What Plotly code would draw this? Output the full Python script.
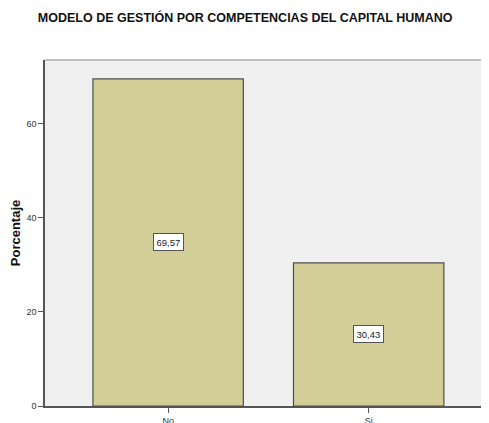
import plotly.graph_objects as go

categorias = ["No", "Si"]
porcentajes = [69.57, 30.43]
etiquetas = ["69,57", "30,43"]

fig = go.Figure()
fig.add_trace(go.Bar(
    x=categorias,
    y=porcentajes,
    width=0.75,
    marker=dict(color="#d3ce98", line=dict(color="#4d4d4d", width=1.2)),
    hoverinfo="skip",
))

for cat, val, txt in zip(categorias, porcentajes, etiquetas):
    fig.add_annotation(
        x=cat, y=val / 2, text=txt, showarrow=False,
        font=dict(family="Arial", size=9.5, color="#222"),
        bgcolor="white", bordercolor="#555", borderwidth=1, borderpad=2.5,
    )

# the page body adds an 8px offset, so the figure is sized to fit the window
fig.update_layout(
    width=481, height=415,
    margin=dict(l=37, r=0, t=52, b=17, autoexpand=False),
    paper_bgcolor="white",
    plot_bgcolor="#f0f0f0",
    showlegend=False,
    title=dict(
        text="<b>MODELO DE GESTIÓN POR COMPETENCIAS DEL CAPITAL HUMANO</b>",
        x=0.493, xref="container", xanchor="center", y=0.978, yanchor="middle",
        font=dict(family="Arial", size=12.5, color="#111"),
    ),
    bargap=0.25,
)

fig.update_xaxes(
    range=[-0.614, 1.6],
    showline=True, linecolor="#555", linewidth=1.5, mirror=False,
    ticks="outside", ticklen=5, tickcolor="#555",
    tickfont=dict(family="Arial", size=9, color="#333"),
    showgrid=False, automargin=False,
)
fig.update_yaxes(
    range=[0, 73.6],
    tickvals=[0, 20, 40, 60],
    showline=True, linecolor="#555", linewidth=1.5,
    ticks="outside", ticklen=5, tickcolor="#555",
    tickfont=dict(family="Arial", size=9, color="#333"),
    showgrid=False, zeroline=False, automargin=False,
    title=dict(text="<b>Porcentaje</b>", standoff=10,
               font=dict(family="Arial", size=13, color="#111")),
)

fig.add_shape(type="line", xref="paper", yref="paper", x0=0, x1=1, y0=1, y1=1,
              line=dict(color="#888", width=1))

fig.write_html("out.html")
